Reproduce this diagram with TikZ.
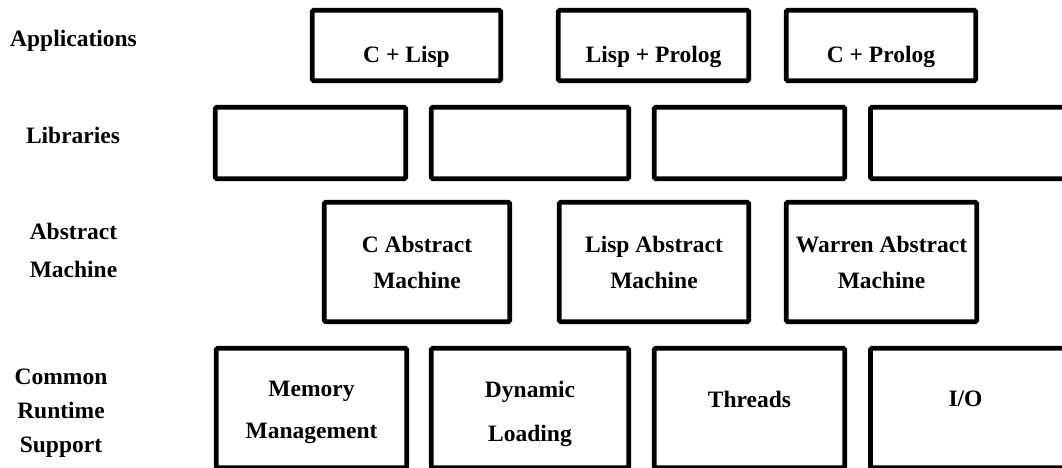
\documentclass[tikz,border=0pt]{standalone}
\usepackage{fontspec}
\setmainfont{Liberation Serif}
\begin{document}
\begin{tikzpicture}[x=1pt, y=-1pt,
    box/.style={draw, line width=4.8pt, rounded corners=1.5pt, inner sep=0pt},
    txt/.style={font=\fontsize{23.5}{36}\selectfont\bfseries, align=center, inner sep=0pt}]
    \useasboundingbox (0, 0) rectangle (1062, 468) ;
    \clip (0, 0) rectangle (1062, 468) ;
    % layer names
    \node[txt] (apps) at (73.5, 40.5) {Applications} ;
    \node[txt] (libs) at (73, 135) {Libraries} ;
    \node[txt] (am) at (73.5, 250) {Abstract\\[2pt]Machine} ;
    \node[txt] (crs) at (61, 413.5) {Common\\[-2pt]Runtime\\[-2pt]Support} ;
    % applications
    \node[box, minimum width=188.5pt, minimum height=70.5pt] (clisp) at (406.5, 45.5) {} ;
    \node[txt] (clisptxt) at ([yshift=-11pt]clisp.center) {C + Lisp} ;
    \node[box, minimum width=190.5pt, minimum height=70.5pt] (lprolog) at (653.5, 45.5) {} ;
    \node[txt] (lprologtxt) at ([yshift=-11pt]lprolog.center) {Lisp + Prolog} ;
    \node[box, minimum width=189.5pt, minimum height=70.5pt] (cprolog) at (881, 45.5) {} ;
    \node[txt] (cprologtxt) at ([yshift=-11pt]cprolog.center) {C + Prolog} ;
    % libraries
    \node[box, minimum width=190.5pt, minimum height=71.5pt] (lib1) at (310.5, 143) {} ;
    \node[box, minimum width=197.5pt, minimum height=71.5pt] (lib2) at (530, 143) {} ;
    \node[box, minimum width=190.5pt, minimum height=71.5pt] (lib3) at (749.5, 143) {} ;
    \node[box, minimum width=200pt, minimum height=71.5pt] (lib4) at (970.5, 143) {} ;
    % abstract machines
    \node[box, minimum width=185.5pt, minimum height=119.5pt] (cam) at (417, 262) {} ;
    \node[txt] (camtxt) at (cam.center) {C Abstract\\Machine} ;
    \node[box, minimum width=189.5pt, minimum height=119.5pt] (lam) at (654, 262) {} ;
    \node[txt] (lamtxt) at (lam.center) {Lisp Abstract\\Machine} ;
    \node[box, minimum width=190.5pt, minimum height=119.5pt] (wam) at (881.5, 262) {} ;
    \node[txt] (wamtxt) at (wam.center) {Warren Abstract\\Machine} ;
    % common runtime support
    \node[box, minimum width=190.5pt, minimum height=119.5pt] (mem) at (311.5, 408) {} ;
    \node[txt] (memtxt) at ([yshift=-4.5pt]mem.center) {Memory\\[6pt]Management} ;
    \node[box, minimum width=197.5pt, minimum height=119.5pt] (dyn) at (530, 408) {} ;
    \node[txt] (dyntxt) at ([yshift=-5.5pt]dyn.center) {Dynamic\\[8pt]Loading} ;
    \node[box, minimum width=190.5pt, minimum height=119.5pt] (thr) at (749.5, 408) {} ;
    \node[txt] (thrtxt) at ([yshift=9pt]thr.center) {Threads} ;
    \node[box, minimum width=200pt, minimum height=119.5pt] (io) at (970.5, 408) {} ;
    \node[txt] (iotxt) at ([xshift=-5pt, yshift=9pt]io.center) {I/O} ;
\end{tikzpicture}
\end{document}
